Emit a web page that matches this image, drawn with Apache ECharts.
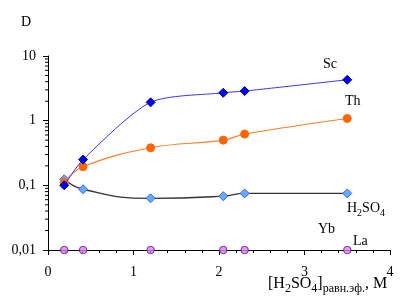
<!DOCTYPE html>
<html><head><meta charset="utf-8">
<script src="https://cdn.jsdelivr.net/npm/echarts@6/dist/echarts.min.js"></script>
<style>html,body{margin:0;padding:0;background:#fff}#c{width:404px;height:306px}</style>
</head><body><div id="c"></div>
<script>
var xVals = [0.19, 0.41, 1.2, 2.05, 2.3, 3.5];
var scVals = [0.10, 0.25, 1.92, 2.70, 2.87, 4.29];
var thVals = [0.111, 0.194, 0.381, 0.50, 0.62, 1.08];
var h2so4Vals = [0.124, 0.087, 0.063, 0.068, 0.075, 0.075];
var laVals = [0.01, 0.01, 0.01, 0.01, 0.01, 0.01];
var yTickLabels = {0.01: '0,01', 0.1: '0,1', 1: '1', 10: '10'};
var yMinorTicks = [0.02,0.03,0.04,0.05,0.06,0.07,0.08,0.09,0.2,0.3,0.4,0.5,0.6,0.7,0.8,0.9,2,3,4,5,6,7,8,9];

function pairs(ys){ return xVals.map(function(x,i){return [x, ys[i]];}); }
var FONT = '"Liberation Serif", "DejaVu Serif", serif';
var chart = echarts.init(document.getElementById('c'), null, {renderer:'canvas'});
var txt = {fontFamily: FONT, fontSize: 14, fill: '#000'};
chart.setOption({
  animation: false,
  grid: {left: 48, right: 14, top: 56, bottom: 56},
  xAxis: {
    type: 'value', min: 0, max: 4, interval: 1,
    axisLine: {lineStyle: {color: '#000', width: 1}},
    axisTick: {length: 5, lineStyle: {color: '#000'}},
    minorTick: {show: true, splitNumber: 5, length: 3, lineStyle: {color: '#000'}},
    splitLine: {show: false},
    axisLabel: {color: '#000', fontFamily: FONT, fontSize: 14, margin: 15}
  },
  yAxis: {
    type: 'log', logBase: 10, min: 0.01, max: 10,
    axisLine: {show: true, lineStyle: {color: '#000', width: 1}},
    axisTick: {show: true, length: 5, lineStyle: {color: '#000'}},
    splitLine: {show: false},
    axisLabel: {color: '#000', fontFamily: FONT, fontSize: 14, margin: 12,
      formatter: function(v){ return yTickLabels[v] !== undefined ? yTickLabels[v] : String(v).replace('.', ','); }}
  },
  series: [
    {type: 'custom', silent: true, clip: false, z: 1,
     data: yMinorTicks.map(function(v){return [0, v];}),
     renderItem: function(params, api){
       var p = api.coord([0, api.value(1)]);
       return {type: 'line', shape: {x1: p[0]-3, y1: p[1], x2: p[0], y2: p[1]}, style: {stroke: '#000', lineWidth: 1}};
     }},
    {name: 'Sc', type: 'line', smooth: 0.25, data: pairs(scVals),
     symbol: 'diamond', symbolSize: 9,
     lineStyle: {color: '#3333ff', width: 1},
     itemStyle: {color: '#0000ff', borderColor: '#000080', borderWidth: 1}, z: 4},
    {name: 'Th', type: 'line', smooth: 0.4, data: pairs(thVals),
     symbol: 'circle', symbolSize: 8,
     lineStyle: {color: '#ff7f2a', width: 1.2},
     itemStyle: {color: '#ff6600', borderColor: '#ff6600', borderWidth: 1}, z: 3},
    {name: 'H2SO4', type: 'line', smooth: 0.5, data: pairs(h2so4Vals),
     symbol: 'diamond', symbolSize: 9,
     lineStyle: {color: '#333333', width: 1.3},
     itemStyle: {color: '#66aaff', borderColor: '#3366ff', borderWidth: 1}, z: 2},
    {name: 'La', type: 'scatter', data: pairs(laVals), clip: false,
     symbol: 'circle', symbolSize: 7.5,
     itemStyle: {color: '#cc88ee', borderColor: '#800080', borderWidth: 1}, z: 5}
  ],
  graphic: [
    {type: 'text', left: 21, top: 15, style: Object.assign({text: 'D'}, txt)},
    {type: 'text', left: 323, top: 57, style: Object.assign({text: 'Sc'}, txt)},
    {type: 'text', left: 345, top: 94, style: Object.assign({text: 'Th'}, txt)},
    {type: 'text', left: 318, top: 222, style: Object.assign({text: 'Yb'}, txt)},
    {type: 'text', left: 353, top: 234, style: Object.assign({text: 'La'}, txt)},
    {type: 'text', left: 347, top: 201, style: {
      text: 'H{s|2}SO{s|4}', fontFamily: FONT, fontSize: 14, fill: '#000',
      rich: {s: {fontFamily: FONT, fontSize: 10, verticalAlign: 'bottom', padding: [0,0,-3,0]}}}},
    {type: 'text', left: 268, top: 276, style: {
      text: '[H{s|2}SO{s|4}]{s|равн.эф.}, M', fontFamily: FONT, fontSize: 16, fill: '#000',
      rich: {s: {fontFamily: FONT, fontSize: 12, verticalAlign: 'bottom', padding: [0,0,-3,0]}}}}
  ]
});
</script></body></html>
